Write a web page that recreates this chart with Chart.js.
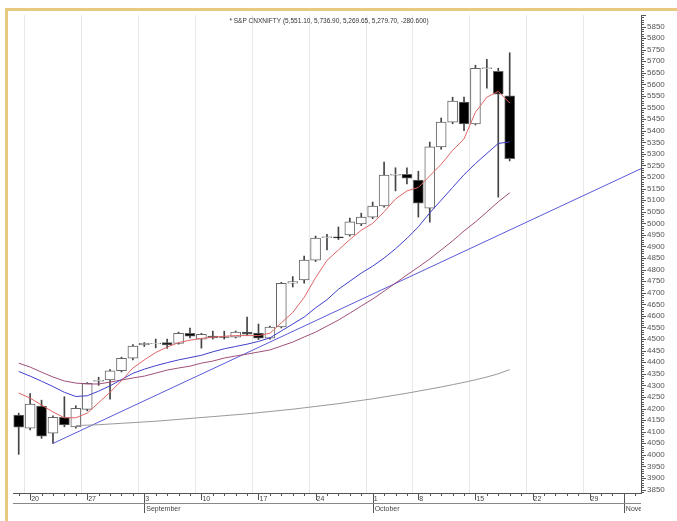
<!DOCTYPE html>
<html>
<head>
<meta charset="utf-8">
<script src="https://cdn.jsdelivr.net/npm/chart.js@4"></script>
<style>
  html, body { margin: 0; padding: 0; background: #fff; }
  #wrap { width: 677px; height: 521px; }
</style>
</head>
<body>
<div id="wrap"><canvas id="chart" width="677" height="521"></canvas></div>
<script>
// trading days shown on the x axis (Aug 17 .. Nov 2), one slot each
const days = [17, 20, 21, 22, 23, 24, 27, 28, 29, 30, 31,
  3, 4, 5, 6, 7, 10, 11, 12, 13, 14, 17, 18, 19, 20, 21, 24, 25, 26, 27, 28,
  1, 3, 4, 5, 8, 9, 10, 11, 12, 15, 16, 17, 18, 19, 22, 23, 24, 25, 26, 29, 30, 31,
  1, 2];
const tickSlots = [1, 6, 11, 16, 21, 26, 31, 35, 40, 45, 50];
const tickText = ['20', '27', '3', '10', '17', '24', '1', '8', '15', '22', '29'];
const monthSlots = [11, 31, 53];
const monthNames = ['September', 'October', 'November'];

const titleText = '* S&P CNXNIFTY (5,551.10, 5,736.90, 5,269.65, 5,279.70, -280.600)';

// daily candles
const opens  = [4172, 4115, 4211, 4093, 4162, 4121, 4196, 4318, 4323, 4363, 4417,
  4475, 4480, 4485, 4481, 4525, 4500, 4513, 4510, 4508, 4530, 4526, 4504, 4552, 4742,
  4755, 4841, 4938, 4942, 4950, 4997, 5027, 5075, 5208, 5212, 5187, 5066, 5330, 5437,
  5524, 5429, 5668, 5657, 5551.10];
const highs  = [4180, 4265, 4236, 4168, 4251, 4212, 4312, 4335, 4368, 4422, 4476,
  4485, 4500, 4500, 4530, 4547, 4525, 4534, 4534, 4535, 4595, 4565, 4556, 4745, 4770,
  4858, 4945, 4952, 4984, 5023, 5044, 5092, 5265, 5240, 5240, 5225, 5351, 5455, 5545,
  5545, 5683, 5709, 5670, 5736.90];
const lows   = [4002, 4108, 4071, 4049, 4121, 4115, 4190, 4300, 4240, 4358, 4410,
  4468, 4462, 4460, 4478, 4505, 4461, 4500, 4500, 4505, 4515, 4498, 4500, 4548, 4725,
  4742, 4835, 4885, 4930, 4945, 4990, 5020, 5070, 5140, 5170, 5027, 5005, 5320, 5430,
  5400, 5425, 5584, 5113, 5269.65];
const closes = [4119, 4219, 4081, 4162, 4129, 4201, 4309, 4322, 4363, 4417, 4470,
  4482, 4482, 4475, 4525, 4512, 4521, 4505, 4507, 4530, 4521, 4504, 4552, 4741, 4748,
  4841, 4936, 4942, 4937, 5006, 5027, 5075, 5208, 5212, 5195, 5087, 5330, 5437, 5528,
  5429, 5670, 5672, 5558, 5279.70];

// moving averages
const maFast = [4267, 4245, 4215, 4185, 4160, 4160, 4180, 4225, 4270, 4320, 4375,
  4410, 4442, 4465, 4485, 4495, 4503, 4508, 4512, 4515, 4515, 4515, 4525, 4570, 4615,
  4680, 4765, 4840, 4885, 4930, 4970, 5000, 5050, 5105, 5140, 5155, 5205, 5255, 5315,
  5365, 5480, 5545, 5570, 5520];
const maMid = [4360, 4340, 4318, 4295, 4270, 4252, 4255, 4275, 4298, 4325, 4352,
  4370, 4385, 4398, 4410, 4420, 4430, 4445, 4458, 4468, 4478, 4490, 4505, 4535, 4565,
  4595, 4635, 4670, 4715, 4750, 4785, 4815, 4850, 4890, 4935, 4985, 5045, 5100, 5155,
  5210, 5258, 5302, 5345, 5352];
const maSlow = [4396, 4379, 4357, 4336, 4319, 4310, 4306, 4306, 4314, 4323, 4332,
  4340, 4353, 4366, 4375, 4383, 4396, 4405, 4418, 4427, 4435, 4444, 4453, 4470, 4487,
  4509, 4530, 4556, 4582, 4612, 4643, 4673, 4707, 4742, 4777, 4811, 4846, 4885, 4924,
  4967, 5006, 5049, 5093, 5132];
const maLong = [null, null, null, null, null, 4126, 4128, 4130, 4133, 4136, 4139,
  4142, 4145, 4149, 4153, 4157, 4161, 4165, 4169, 4173, 4177, 4182, 4187, 4192, 4197,
  4203, 4209, 4215, 4221, 4228, 4235, 4242, 4250, 4258, 4266, 4275, 4284, 4293, 4303,
  4313, 4324, 4336, 4350, 4368];

// trend line through the August low
const trendSlots = [3, 54.5];
const trendValues = [4049, 5236];

const xy = arr => arr.map((v, i) => ({ x: i, y: v }));

const decor = {
  id: 'decor',
  beforeDraw(chart) {
    const ctx = chart.ctx;
    ctx.save();
    ctx.fillStyle = '#fff';
    ctx.fillRect(0, 0, chart.width, chart.height);
    ctx.fillStyle = '#e9c880';
    ctx.fillRect(5, 8, chart.width - 5, 3);
    ctx.fillRect(5, 8, 3, chart.height - 8);
    ctx.restore();
  },
  afterDraw(chart) {
    const { ctx, chartArea: a, scales: { x, y } } = chart;
    ctx.save();
    ctx.font = '6.5px "Liberation Sans", Arial';
    ctx.fillStyle = '#333';
    ctx.textAlign = 'center';
    ctx.textBaseline = 'middle';
    ctx.fillText(titleText, 329, 21);

    ctx.strokeStyle = '#555';
    ctx.lineWidth = 1;
    ctx.beginPath();
    days.forEach((d, i) => {
      const px = Math.round(x.getPixelForValue(i)) + 0.5;
      const len = tickSlots.includes(i) ? 7 : 3;
      ctx.moveTo(px, a.bottom);
      ctx.lineTo(px, a.bottom + len);
    });
    monthSlots.forEach(i => {
      const px = Math.round(x.getPixelForValue(i)) + 0.5;
      ctx.moveTo(px, a.bottom);
      ctx.lineTo(px, a.bottom + 20);
    });
    y.ticks.forEach(t => {
      const py = Math.round(y.getPixelForValue(t.value)) + 0.5;
      const len = t.value % 50 === 0 ? 5 : 3;
      ctx.moveTo(a.right, py);
      ctx.lineTo(a.right + len, py);
    });
    ctx.stroke();

    ctx.strokeStyle = '#888';
    ctx.beginPath();
    ctx.moveTo(a.left, a.bottom + 10.5);
    ctx.lineTo(a.right, a.bottom + 10.5);
    ctx.stroke();

    ctx.beginPath();
    ctx.rect(a.left, a.bottom, a.right - a.left, 30);
    ctx.clip();
    ctx.font = '7px "Liberation Sans", Arial';
    ctx.fillStyle = '#444';
    ctx.textAlign = 'left';
    ctx.textBaseline = 'top';
    monthSlots.forEach((s, k) => {
      ctx.fillText(monthNames[k], x.getPixelForValue(s) + 2, a.bottom + 13);
    });
    ctx.restore();
  }
};

new Chart(document.getElementById('chart'), {
  type: 'bar',
  data: {
    datasets: [
      { type: 'line', data: xy(maFast), borderColor: '#e06666', borderWidth: 1, pointRadius: 0, order: 1 },
      { type: 'line', data: xy(maMid), borderColor: '#4040cc', borderWidth: 1, pointRadius: 0, order: 1 },
      { type: 'line', data: xy(maSlow), borderColor: '#a0507a', borderWidth: 1, pointRadius: 0, order: 1 },
      { type: 'line', data: xy(maLong), borderColor: '#999', borderWidth: 1, pointRadius: 0, order: 1 },
      { type: 'line', data: trendSlots.map((s, i) => ({ x: s, y: trendValues[i] })),
        borderColor: '#5a5ad8', borderWidth: 1, pointRadius: 0, order: 1 },
      {
        type: 'bar',
        data: highs.map((h, i) => ({ x: i, y: [lows[i], h] })),
        backgroundColor: '#444',
        barThickness: 1,
        grouped: false,
        order: 3
      },
      {
        type: 'bar',
        data: opens.map((o, i) => ({ x: i, y: [o, closes[i]] })),
        backgroundColor: c => closes[c.dataIndex] < opens[c.dataIndex] ? '#000' : '#fff',
        borderColor: '#666',
        borderWidth: 1,
        borderSkipped: false,
        barThickness: 10,
        grouped: false,
        order: 2
      }
    ]
  },
  options: {
    responsive: false,
    animation: false,
    layout: { padding: { left: 13, top: 15, right: 0, bottom: 0 } },
    plugins: { legend: { display: false }, tooltip: { enabled: false } },
    scales: {
      x: {
        type: 'linear',
        min: -0.5,
        max: 54.5,
        offset: false,
        afterBuildTicks: s => { s.ticks = days.map((d, i) => ({ value: i })); },
        afterFit: s => { s.height = 28; },
        grid: {
          color: c => tickSlots.includes(c.tick && c.tick.value) ? '#e8e8e8' : 'rgba(0,0,0,0)',
          drawTicks: false
        },
        border: { color: '#555' },
        ticks: {
          autoSkip: false,
          maxRotation: 0,
          align: 'start',
          labelOffset: 1,
          padding: 2,
          color: '#444',
          font: { size: 7, family: '"Liberation Sans", Arial' },
          callback: v => {
            const k = tickSlots.indexOf(v);
            return k >= 0 ? tickText[k] : '';
          }
        }
      },
      y: {
        position: 'right',
        min: 3835,
        max: 5900,
        bounds: 'data',
        afterBuildTicks: s => {
          const t = [];
          for (let v = 3840; v <= 5900; v += 10) t.push({ value: v });
          s.ticks = t;
        },
        afterFit: s => { s.width = 36; },
        grid: { drawOnChartArea: false, drawTicks: false },
        border: { color: '#555' },
        ticks: {
          autoSkip: false,
          padding: 6,
          color: '#555',
          font: { size: 8, family: '"Liberation Sans", Arial' },
          callback: v => (v % 50 === 0 && v >= 3850 && v <= 5850) ? String(v) : ''
        }
      }
    }
  },
  plugins: [decor]
});
</script>
</body>
</html>
